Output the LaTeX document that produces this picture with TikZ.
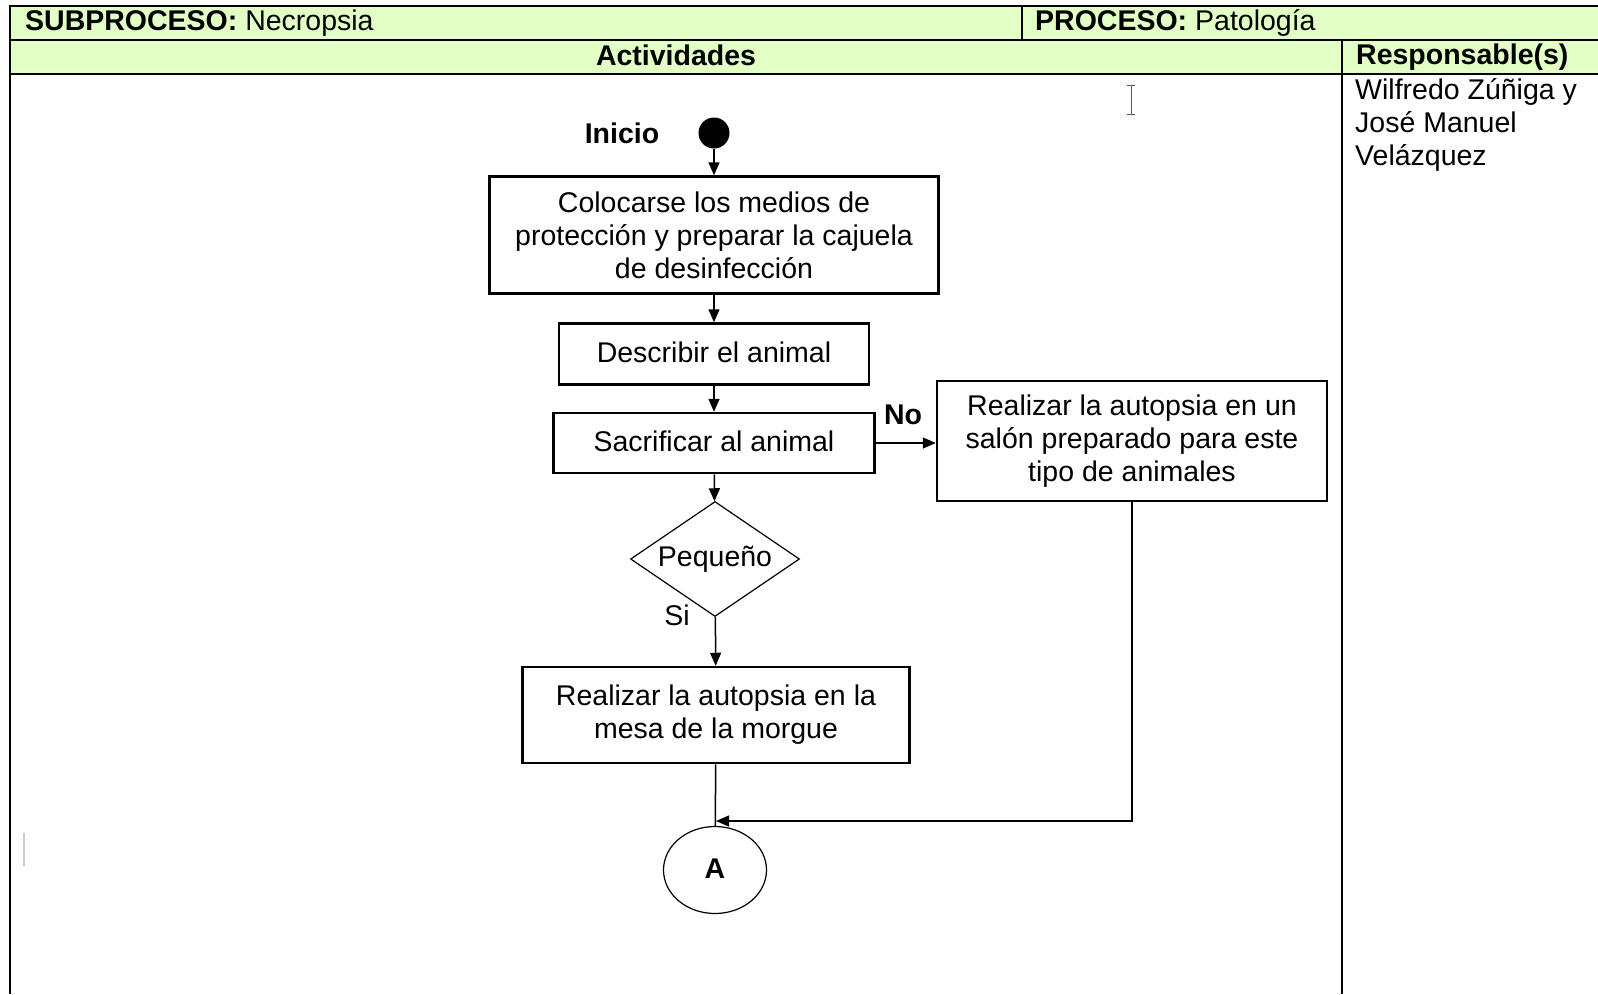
\documentclass[tikz,border=0pt]{standalone}
\usepackage{fontspec}
\setmainfont{Liberation Sans}
\usetikzlibrary{shapes.geometric,arrows.meta}
\definecolor{cabecera}{RGB}{226,255,198}
\newcommand{\letra}{\fontsize{28.5}{33}\selectfont}

\begin{document}
\begin{tikzpicture}[x=1pt, y=-1pt, >={Triangle[length=13pt,width=11pt]},
	every node/.style={font=\letra, inner sep=0pt},
	caja/.style={draw, line width=2.5pt, align=center},
	flecha/.style={line width=1.5pt, ->},
	tabla/.style={line width=1.5pt}]
	\useasboundingbox (0,0) rectangle (1598,994);
	\fill[cabecera] (10,6) rectangle (1598,74);
	\draw[tabla] (1598,6) -- (10,6) -- (10,994);
	\draw[tabla] (10,40) -- (1598,40);
	\draw[tabla] (10,74) -- (1598,74);
	\draw[tabla] (1022,6) -- (1022,40);
	\draw[tabla] (1342,40) -- (1342,994);

	\node[anchor=west] (subproceso) at (25,23) {\textbf{SUBPROCESO:} Necropsia};
	\node[anchor=west] (proceso) at (1035,23) {\textbf{PROCESO:} Patología};
	\node[font=\letra\bfseries] (actividades) at (676,55) {Actividades};
	\node[anchor=west, font=\letra\bfseries] (responsable) at (1356,57) {Responsable(s)};
	\node[anchor=west, align=left] (nombres) at (1355,125) {Wilfredo Zúñiga y\\José Manuel\\Velázquez};

	\node[font=\letra\bfseries] (inicio) at (622,133) {Inicio};
	\node[circle, fill, minimum size=31pt] (punto) at (714,133) {};
	\node[caja, minimum width=449pt, minimum height=117pt] (colocarse) at (714,235) {Colocarse los medios de\\protección y preparar la cajuela\\de desinfección};
	\node[caja, minimum width=310pt, minimum height=61pt] (describir) at (714,354) {\raisebox{3pt}{Describir el animal}};
	\node[caja, minimum width=321pt, minimum height=60pt] (sacrificar) at (714,443) {\raisebox{3pt}{Sacrificar al animal}};
	\node[diamond, draw, line width=1.2pt, aspect=1.47, minimum width=169pt, minimum height=115pt] (pequeno) at (715,559) {\raisebox{2pt}{Pequeño}};
	\node[caja, minimum width=387pt, minimum height=96pt] (mesa) at (716,715) {Realizar la autopsia en la\\mesa de la morgue};
	\node[caja, minimum width=390pt, minimum height=120pt] (salon) at (1132,441) {Realizar la autopsia en un\\salón preparado para este\\tipo de animales};
	\node[ellipse, draw, line width=1.2pt, minimum width=103pt, minimum height=87pt, font=\letra\bfseries] (conector) at (715,870) {\raisebox{3pt}{A}};
	\coordinate (union) at (716,821);

	\node[font=\letra\bfseries] (no) at (903,415) {No};
	\node (si) at (677,615) {Si};

	\draw[flecha] (punto) -- (colocarse);
	\draw[flecha] (colocarse) -- (describir);
	\draw[flecha] (describir) -- (sacrificar);
	\draw[flecha] (sacrificar) -- (pequeno);
	\draw[flecha] (sacrificar.east) -- (sacrificar.east -| salon.west);
	\draw[flecha] (pequeno) -- (mesa);
	\draw[line width=1.5pt] (mesa) -- (conector);
	\draw[flecha] (salon.south) |- (union);

	\draw[gray!40, line width=2pt] (24,833) -- (24,866);
	\draw[gray!70!black, line width=1pt] (1131,85) -- (1131,114) (1127,85) -- (1135,85) (1127,114) -- (1135,114);
\end{tikzpicture}
\end{document}
